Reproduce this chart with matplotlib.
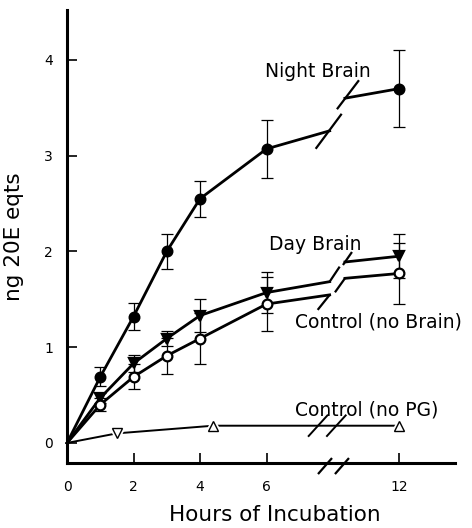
import matplotlib
matplotlib.use("Agg")
import matplotlib.pyplot as plt
import numpy as np

# data (hours of incubation -> ng 20E eqts)
hours = [0, 1, 2, 3, 4, 6, 12]
night = [0, 0.69, 1.32, 2.00, 2.55, 3.07, 3.70]
night_err = [0, 0.10, 0.14, 0.18, 0.19, 0.30, 0.40]
day = [0, 0.47, 0.83, 1.09, 1.33, 1.57, 1.95]
day_err = [0, 0.05, 0.09, 0.08, 0.17, 0.21, 0.23]
ctrl = [0, 0.40, 0.69, 0.91, 1.09, 1.45, 1.77]
ctrl_err = [0, 0.07, 0.13, 0.19, 0.27, 0.28, 0.32]
nopg_hours = [0, 1.5, 4.4, 12]
nopg = [0, 0.10, 0.18, 0.18]

xticks_h = [0, 2, 4, 6, 12]
yticks = [0, 1, 2, 3, 4]


def to_axis(h):
    # broken axis: 6 -> 12 h is squeezed into 4 units
    h = np.asarray(h, float)
    return np.where(h <= 6, h, 6 + (h - 6) * 4.0 / 6.0)


fig = plt.figure(figsize=(4.72, 5.28), dpi=100)
ax = fig.add_axes([0.142, 0.123, 0.822, 0.858])
ax.set_xlim(0, 11.67)
ax.set_ylim(-0.21, 4.52)

for s in ("top", "right"):
    ax.spines[s].set_visible(False)
for s in ("left", "bottom"):
    ax.spines[s].set_linewidth(2.2)

LW = 2.0
XL, XR = 7.9, 8.36  # where the lines stop / restart around the break


def slash(x, y, p0, p1, lw=1.6):
    # short break mark, offsets in pixels from (x, y)
    cx, cy = ax.transData.transform((x, y))
    inv = ax.transData.inverted()
    a = inv.transform((cx + p0[0], cy + p0[1]))
    b = inv.transform((cx + p1[0], cy + p1[1]))
    ax.plot([a[0], b[0]], [a[1], b[1]], color="black", lw=lw,
            solid_capstyle="butt", clip_on=False, zorder=4)


def series(y, err, marker, mfc, slashes):
    x = to_axis(hours)
    y = np.asarray(y, float)
    # lines up to 6 h
    ax.plot(x[:6], y[:6], color="black", lw=LW, zorder=2, clip_on=False)
    dy = y[6] - y[5]
    yl = y[5] + 0.3 * dy
    yr = y[5] + 0.84 * dy
    ax.plot([x[5], XL], [y[5], yl], color="black", lw=LW, zorder=2)
    ax.plot([XR, x[6]], [yr, y[6]], color="black", lw=LW, zorder=2)
    slash(XL, yl, *slashes[0])
    slash(XR, yr, *slashes[1])
    ax.errorbar(x[1:], y[1:], yerr=np.asarray(err)[1:], fmt="none",
                ecolor="black", elinewidth=0.9, capsize=4, capthick=0.9, zorder=3)
    ax.plot(x[1:], y[1:], linestyle="none", marker=marker, ms=7.5 if marker != "o" else 7,
            mfc=mfc, mec="black", mew=1.6, zorder=5)


series(night, night_err, "o", "black",
       [((-14, -18), (12, 17)), ((-8, -11), (14, 18))])
series(day, day_err, "v", "black",
       [((0, 0), (10, 15)), ((-2, -3), (7, 10))])
series(ctrl, ctrl_err, "o", "white",
       [((-12, -15), (0, 0)), ((-10, -14), (0, 0))])

# control (no PG)
xp = to_axis(nopg_hours)
ax.plot(xp, nopg, color="black", lw=1.4, zorder=2, clip_on=False)
mk = ["", "v", "^", "^"]
for xi, yi, m in zip(xp, nopg, mk):
    if not m:
        continue
    ax.plot(xi, yi, marker=m, ms=13, mfc="white", mec="white", zorder=4)
    ax.plot(xi, yi, marker=m, ms=7.5, mfc="white", mec="black", mew=1.0, zorder=5)
for xs in (7.55, 8.1):
    slash(xs, nopg[-1], (-10, -11), (10, 11), lw=1.4)

# x axis break marks
for xs in (7.76, 8.27):
    slash(xs, -0.21, (-7, -11), (7, 5), lw=1.6)

ax.set_xticks(to_axis(xticks_h))
ax.set_xticklabels([str(h) for h in xticks_h])
ax.set_yticks(yticks)
ax.set_yticklabels([str(v) for v in yticks])
ax.tick_params(direction="in", length=7, width=1.2, labelsize=10, pad=10)
ax.tick_params(axis="x", pad=12)

ax.set_xlabel("Hours of Incubation", fontsize=15.5)
ax.xaxis.set_label_coords(0.536, -0.092)
ax.set_ylabel("ng 20E eqts", fontsize=15.5)
ax.yaxis.set_label_coords(-0.112, 0.5)

lab = dict(fontsize=13.5, ha="center", va="center")
ax.text(7.55, 3.88, "Night Brain", **lab)
ax.text(7.47, 2.07, "Day Brain", **lab)
ax.text(9.37, 1.26, "Control (no Brain)", **lab)
ax.text(9.0, 0.345, "Control (no PG)", **lab)

fig.savefig("out.png", dpi=100)
